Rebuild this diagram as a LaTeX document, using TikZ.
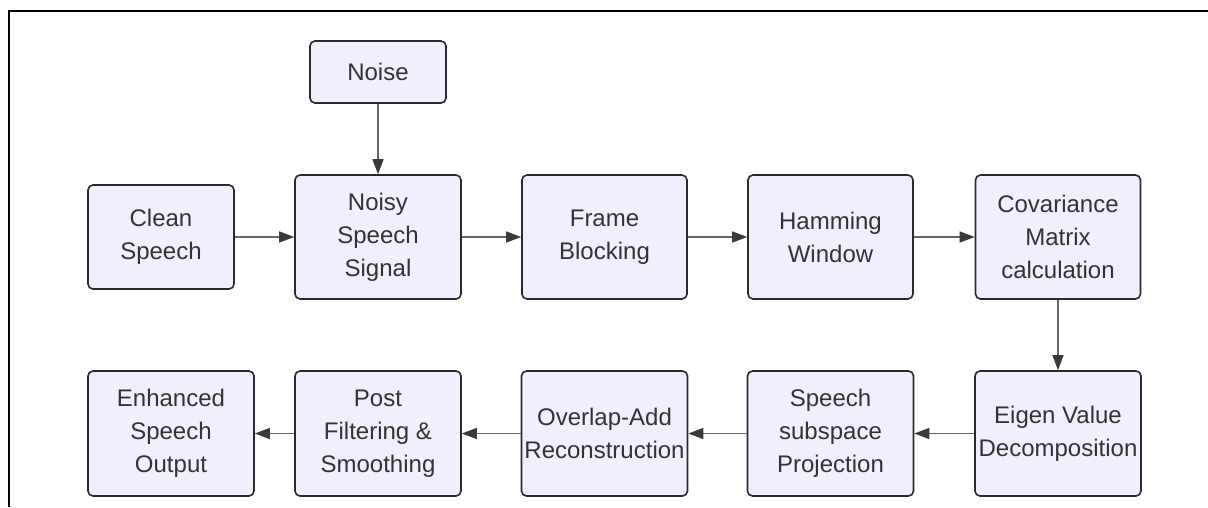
\documentclass[tikz,border=0pt]{standalone}
\usepackage{fontspec}
\setmainfont{Liberation Sans}
\usetikzlibrary{arrows.meta}
\definecolor{boxfill}{HTML}{EFEFFD}
\definecolor{boxline}{HTML}{2A2A2A}
\definecolor{txt}{HTML}{333333}
\definecolor{wire}{HTML}{666666}
\definecolor{tip}{HTML}{3A3A3A}
\tikzset{
  stage/.style={draw=boxline, fill=boxfill, line width=1.6pt, rounded corners=5pt,
    align=center, inner sep=0pt, minimum width=166pt, minimum height=124pt,
    text=txt, font=\fontsize{24}{33}\selectfont},
  flow/.style={draw=wire, line width=1.3pt,
    -{Triangle[length=15pt,width=11pt,color=tip]}}
}
\begin{document}
\begin{tikzpicture}[x=1pt,y=-1pt]
\useasboundingbox (0,0) rectangle (1208,507);
% page frame (top and left edges)
\draw[line width=2.5pt, black] (1208,11) -- (9,11) -- (9,507);

% top row
\node[stage, minimum width=136pt, minimum height=62pt] (noise) at (378,72) {Noise};
\node[stage, minimum width=146pt, minimum height=104pt] (clean) at (161,237) {Clean\\Speech};
\node[stage] (noisy) at (378,237) {Noisy\\Speech\\Signal};
\node[stage, minimum width=165pt] (frame) at (604.5,237) {Frame\\Blocking};
\node[stage, minimum width=165pt] (hamm) at (830.5,237) {Hamming\\Window};
\node[stage, minimum width=165pt] (cov) at (1058,237) {Covariance\\Matrix\\calculation};

% bottom row
\node[stage, minimum height=125pt] (eig) at (1058,433.5) {Eigen Value\\Decomposition};
\node[stage, minimum height=125pt] (proj) at (830.5,433.5) {Speech\\subspace\\Projection};
\node[stage, minimum height=125pt] (ola) at (604.5,433.5) {Overlap-Add\\Reconstruction};
\node[stage, minimum height=125pt] (post) at (378,433.5) {Post\\Filtering \&\\Smoothing};
\node[stage, minimum height=125pt] (enh) at (171,433.5) {Enhanced\\Speech\\Output};

% connectors
\draw[flow] (noise) -- (noisy);
\draw[flow] (clean) -- (noisy);
\draw[flow] (noisy) -- (frame);
\draw[flow] (frame) -- (hamm);
\draw[flow] (hamm) -- (cov);
\draw[flow] (cov) -- (eig);
\draw[flow] (eig) -- (proj);
\draw[flow] (proj) -- (ola);
\draw[flow] (ola) -- (post);
\draw[flow] (post) -- (enh);
\end{tikzpicture}
\end{document}
